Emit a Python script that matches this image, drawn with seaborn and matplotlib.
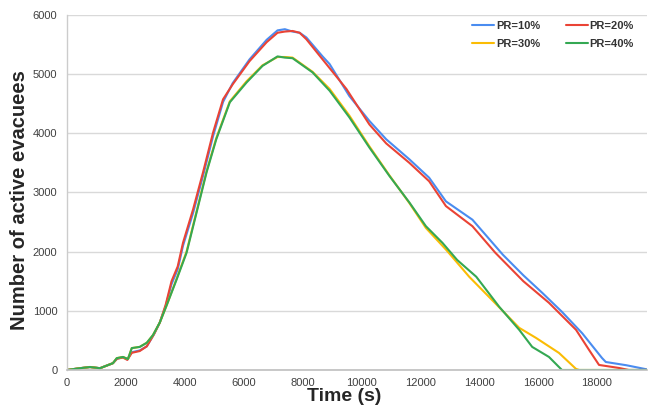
import pandas as pd
import seaborn as sns
import matplotlib.pyplot as plt

# PR=10%
t_pr10 = [0, 440, 780, 1120, 1560, 1700, 1900, 2050, 2200, 2470, 2710, 2950, 3150, 3350, 3550, 3760,
          3940, 4280, 4620, 4960, 5300, 5630, 6200, 6780, 7150, 7400, 7660, 7900, 8130, 8680, 8920,
          9590, 10270, 10840, 11630, 12300, 12870, 13770, 14800, 15500, 16150, 16810, 17500, 18170,
          18300, 19000, 19700]
v_pr10 = [0, 30, 50, 30, 115, 190, 215, 180, 300, 330, 400, 600, 800, 1080, 1450, 1700,
          2100, 2650, 3280, 3950, 4530, 4850, 5250, 5580, 5740, 5760, 5720, 5700, 5620, 5300, 5170,
          4630, 4210, 3900, 3560, 3250, 2850, 2540, 1950, 1600, 1300, 983, 620, 203,
          135, 80, 10]

# PR=20%
t_pr20 = [0, 440, 780, 1120, 1560, 1700, 1900, 2050, 2200, 2470, 2710, 2950, 3150, 3350, 3550, 3760,
          3940, 4280, 4620, 4960, 5300, 5630, 6200, 6780, 7150, 7400, 7660, 7900, 8130, 8680, 9490,
          10270, 10840, 11630, 12300, 12870, 13770, 14550, 15500, 16370, 17290, 17730, 18070, 18750,
          19080, 19700]
v_pr20 = [0, 30, 50, 30, 115, 190, 210, 170, 290, 320, 400, 600, 800, 1100, 1500, 1750,
          2150, 2710, 3340, 4010, 4575, 4830, 5220, 5540, 5700, 5720, 5730, 5700, 5590, 5250, 4750,
          4150, 3830, 3500, 3190, 2770, 2430, 1980, 1500, 1135, 678, 340, 85, 34,
          0, 0]

# PR=30%
t_pr30 = [0, 440, 780, 1120, 1560, 1690, 1900, 2070, 2200, 2470, 2710, 2920, 3150, 3390, 3720, 4060,
          4400, 4740, 5070, 5530, 6100, 6640, 7150, 7400, 7660, 8340, 8920, 9590, 10270, 10950,
          11630, 12190, 12880, 13660, 14580, 15360, 15930, 16710, 17290, 17400, 19700]
v_pr30 = [0, 30, 50, 30, 115, 200, 220, 185, 370, 390, 460, 590, 800, 1100, 1540, 2000,
          2680, 3360, 3920, 4540, 4880, 5150, 5290, 5290, 5280, 5040, 4750, 4300, 3780, 3290,
          2820, 2400, 2030, 1576, 1110, 712, 542, 288, 17, 0, 0]

# PR=40%
t_pr40 = [0, 440, 780, 1120, 1560, 1690, 1900, 2070, 2200, 2470, 2710, 2920, 3150, 3390, 3720, 4060,
          4400, 4740, 5070, 5530, 6100, 6640, 7150, 7400, 7660, 8340, 8920, 9590, 10270, 10950,
          11630, 12190, 12750, 13250, 13900, 14680, 15360, 15800, 16370, 16810, 19700]
v_pr40 = [0, 30, 50, 30, 115, 200, 220, 185, 370, 390, 460, 590, 800, 1100, 1525, 1980,
          2660, 3340, 3900, 4525, 4860, 5140, 5300, 5280, 5270, 5030, 4720, 4270, 3760, 3280,
          2830, 2430, 2150, 1860, 1576, 1068, 678, 390, 220, 0, 0]

labels = ["PR=10%", "PR=20%", "PR=30%", "PR=40%"]
colors = ["#4a8cf0", "#ea4335", "#fbbc04", "#34a853"]

df = pd.concat([
    pd.DataFrame({"Time": t, "Evacuees": v, "PR": lab})
    for lab, t, v in zip(labels, [t_pr10, t_pr20, t_pr30, t_pr40], [v_pr10, v_pr20, v_pr30, v_pr40])
], ignore_index=True)

sns.set_style("white")
plt.rcParams['font.family'] = ['Liberation Sans', 'DejaVu Sans']

fig, ax = plt.subplots(figsize=(6.48, 4.11), dpi=100)
fig.subplots_adjust(left=0.1034, right=0.9985, bottom=0.0998, top=0.9635)

sns.lineplot(data=df, x="Time", y="Evacuees", hue="PR", palette=dict(zip(labels, colors)),
             estimator=None, sort=False, linewidth=1.5, ax=ax)

ax.set_xlim(0, 19700)
ax.set_ylim(0, 6000)
ax.set_xticks(range(0, 19000, 2000))
ax.set_yticks(range(0, 7000, 1000))
ax.tick_params(length=0, labelsize=8, labelcolor="#404040")
ax.tick_params(axis="y", pad=7)
ax.tick_params(axis="x", pad=6)

ax.yaxis.grid(True, color="#d9d9d9", linewidth=1)
ax.xaxis.grid(False)
for side in ["top", "right"]:
    ax.spines[side].set_visible(False)
ax.spines["left"].set_color("#cccccc")
ax.spines["bottom"].set_color("#bfbfbf")
ax.spines["left"].set_linewidth(1)
ax.spines["bottom"].set_linewidth(1.2)

ax.set_xlabel("Time (s)", fontsize=14, fontweight="bold")
ax.set_ylabel("Number of active evacuees", fontsize=14.5, fontweight="bold")
ax.xaxis.set_label_coords(0.478, -0.05)
ax.xaxis.label.set_va("top")
ax.yaxis.set_label_coords(-0.066, 0.48)

# legend row-wise: 10 20 / 30 40
handles, labs = ax.get_legend_handles_labels()
order = [0, 2, 1, 3]
ax.legend([handles[i] for i in order], [labs[i] for i in order], ncol=2, frameon=False,
          loc="upper right", bbox_to_anchor=(0.977, 0.983), borderpad=0, borderaxespad=0,
          prop={"weight": "bold", "size": 8}, handlelength=2, handletextpad=0.15,
          columnspacing=2.3, labelspacing=0.75, labelcolor="#333333")

plt.savefig("out.png", dpi=100)
